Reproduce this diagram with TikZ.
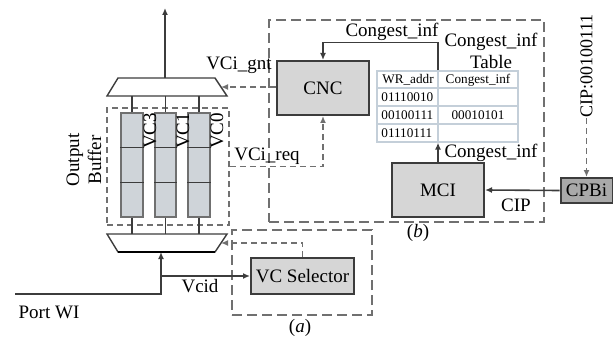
\documentclass[tikz,border=0pt]{standalone}
\usepackage{fontspec}
\setmainfont{Liberation Serif}
\usetikzlibrary{arrows.meta,calc}
\definecolor{boxfill}{HTML}{D6D6D6}
\definecolor{colfill}{HTML}{CFD4D9}
\definecolor{cpbfill}{HTML}{A9A9A9}
\definecolor{linec}{HTML}{3C3C3C}
\definecolor{dashc}{HTML}{707070}
\definecolor{tblc}{HTML}{C4CFD9}
\tikzset{
  box/.style={draw=linec, fill=boxfill, line width=1pt, inner sep=0pt},
  colbox/.style={draw=dashc, fill=colfill, line width=0.6pt, inner sep=0pt, minimum height=52pt},
  arr/.style={draw=linec, line width=0.8pt, -{Latex[length=3.5pt,width=3pt]}},
  plain/.style={draw=linec, line width=0.7pt},
  dasharr/.style={draw=dashc, line width=0.8pt, dash pattern=on 3pt off 2pt, -{Latex[length=3.5pt,width=3pt]}},
  dbox/.style={draw=dashc, line width=0.8pt, dash pattern=on 5pt off 2.5pt, inner sep=0pt},
  lbl/.style={inner sep=0pt},
  tbltxt/.style={inner sep=0pt, font=\fontsize{6.6}{8}\selectfont},
}
\begin{document}
\begin{tikzpicture}[x=0.5pt,y=-0.5pt, font=\fontsize{9.5}{11}\selectfont]
\useasboundingbox (0,0) rectangle (613,336);

% dashed region boxes
\node[dbox, minimum width=137.5pt, minimum height=101pt] (bbox) at (406.5,121) {};
\node[dbox, minimum width=70pt, minimum height=42.5pt] (abox) at (302,272.5) {};
\node[dbox, dash pattern=on 3pt off 2pt, minimum width=61pt, minimum height=58.5pt] (ob) at (168,166.5) {};

% muxes
\coordinate (muxTtl) at (118,78); \coordinate (muxTtr) at (215,78);
\coordinate (muxTbr) at (227,96); \coordinate (muxTbl) at (107,96);
\draw[draw=linec, line width=0.7pt, fill=white] (muxTtl) -- (muxTtr) -- (muxTbr) -- (muxTbl) -- cycle;
\coordinate (muxBtl) at (107,234); \coordinate (muxBtr) at (227,234);
\coordinate (muxBbr) at (215,252); \coordinate (muxBbl) at (118,252);
\draw[draw=linec, line width=0.7pt, fill=white] (muxBtl) -- (muxBtr) -- (muxBbr) -- (muxBbl) -- cycle;
\draw[draw=black, line width=1.2pt] (muxBbl) -- (muxBbr);
\coordinate (muxTout) at (165,78);
\coordinate (outTop) at (165,8);
\coordinate (muxTin) at (221,87);
\coordinate (muxBin) at (221,243);
\coordinate (muxBbot) at (161,252);

% columns
\node[colbox, minimum width=11pt] (c3) at (132,165) {};
\node[colbox, minimum width=10.5pt] (c1) at (165.5,165) {};
\node[colbox, minimum width=11pt] (c0) at (199,165) {};
\foreach \c in {c3,c1,c0}{
  \draw[draw=linec, line width=0.8pt] ($(\c.north west)!0.333!(\c.south west)$) -- ($(\c.north east)!0.333!(\c.south east)$);
  \draw[draw=linec, line width=0.8pt] ($(\c.north west)!0.667!(\c.south west)$) -- ($(\c.north east)!0.667!(\c.south east)$);
  \draw[plain] (\c.north) -- (\c.north |- muxTbl);
  \draw[plain] (\c.south) -- (\c.south |- muxBtl);
}
\node[lbl, rotate=90] (l3) at (150,131) {VC3};
\node[lbl, rotate=90] (l1) at (183,131) {VC1};
\node[lbl, rotate=90] (l0) at (217,131) {VC0};
\node[lbl, rotate=90, align=center] (obl) at (84,160) {Output\\Buffer};

% boxes
\node[box, minimum width=46pt, minimum height=27pt] (cnc) at (323,88) {CNC};
\node[box, minimum width=46pt, minimum height=27pt] (mci) at (438,190) {MCI};
\node[box, minimum width=51.5pt, minimum height=18pt] (vcs) at (302.5,276) {VC Selector};
\node[box, fill=cpbfill, minimum width=26pt, minimum height=12.5pt] (cpbi) at (586.5,190.5) {CPBi};

% table
\node[draw=tblc, line width=0.6pt, inner sep=0pt, minimum width=70.5pt, minimum height=35.5pt] (tbl) at (447.5,106.5) {};
\draw[draw=tblc, line width=0.6pt] (438,71) -- (438,142);
\foreach \y in {88,106,124} \draw[draw=tblc, line width=0.6pt] (377,\y) -- (518,\y);
\node[tbltxt] (h1) at (408,80) {WR\_addr};
\node[tbltxt] (h2) at (478,80) {Congest\_inf};
\node[tbltxt, anchor=west] (r1) at (381,97.5) {01110010};
\node[tbltxt, anchor=west] (r2) at (381,115.5) {00100111};
\node[tbltxt] (r2b) at (478,115.5) {00010101};
\node[tbltxt, anchor=west] (r3) at (381,133.5) {01110111};

% connectors
\draw[arr] (muxTout) -- (outTop);
\draw[dasharr] (cnc.west |- muxTin) -- (muxTin);
\draw[dasharr] (ob.east) -| (cnc.south);
\draw[arr] (mci.north) -- (mci.north |- tbl.south);
\draw[arr] (mci.north |- tbl.north) -- ++(0,-28) -| (cnc.north);
\draw[arr] (cpbi.west) -- (mci.east);
\node[lbl, rotate=90, font=\fontsize{9}{11}\selectfont] (cip) at (586.5,66) {CIP:00100111};
\draw[dasharr] (cip.west) -- (cpbi.north);
\draw[dasharr] (vcs.north) |- (muxBin);
\coordinate (port) at (15,294);
\coordinate (branch) at (161,276);
\draw[arr] (port) -| (muxBbot);
\draw[arr] (branch) -- (vcs.west);

% labels
\node[lbl] (tgnt) at (239,65) {VCi\_gnt};
\node[lbl] (treq) at (267,156) {VCi\_req};
\node[lbl] (tci1) at (392,32) {Congest\_inf};
\node[lbl, align=center] (tct) at (491,51) {Congest\_inf\\Table};
\node[lbl] (tci2) at (491,153) {Congest\_inf};
\node[lbl] (tcip) at (516,205) {CIP};
\node[lbl] (tb) at (418,233) {(\textit{b})};
\node[lbl] (ta) at (300,328) {(\textit{a})};
\node[lbl] (tvcid) at (200,286) {Vcid};
\node[lbl] (tport) at (49,312) {Port WI};
\end{tikzpicture}
\end{document}
